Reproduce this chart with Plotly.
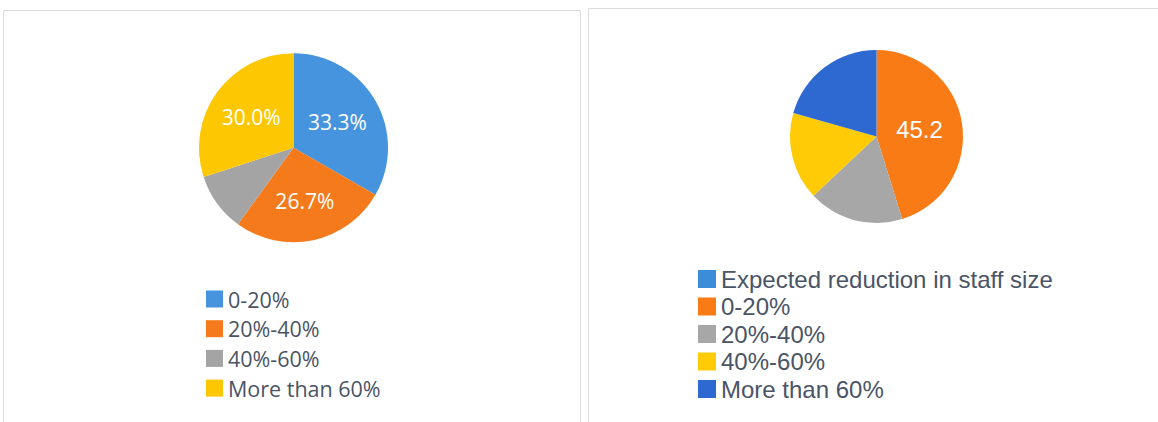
import plotly.graph_objects as go

W, H = 1158, 422

# Left chart: share of respondents by range
left_labels = ["0-20%", "20%-40%", "40%-60%", "More than 60%"]
left_values = [33.3, 26.7, 10.0, 30.0]
left_colors = ["#4594dd", "#f47a1c", "#a4a4a4", "#fdc702"]
left_text = ["33.3%", "26.7%", "", "30.0%"]

# Right chart: expected reduction in staff size
right_labels = ["Expected reduction in staff size", "0-20%", "20%-40%", "40%-60%", "More than 60%"]
right_values = [0, 45.2, 17.8, 16.4, 20.6]
right_colors = ["#3b8cd9", "#f87b16", "#a7a7a7", "#fecb06", "#2d69d1"]
right_text = ["", "45.2", "", "", ""]


def px(x):
    return x / W


def py(y):
    return 1 - y / H


fig = go.Figure()

fig.add_trace(go.Pie(
    labels=left_labels, values=left_values, text=left_text,
    texttemplate="%{text}", textposition="inside", insidetextorientation="horizontal",
    sort=False, direction="clockwise", rotation=0,
    marker=dict(colors=left_colors, line=dict(width=0)),
    textfont=dict(family="Open Sans", size=21, color="white"),
    domain=dict(x=[px(199), px(388)], y=[py(242.5), py(53)]),
    showlegend=False, hoverinfo="label+value",
))

fig.add_trace(go.Pie(
    labels=right_labels, values=right_values, text=right_text,
    texttemplate="%{text}", textposition="inside", insidetextorientation="horizontal",
    sort=False, direction="clockwise", rotation=0,
    marker=dict(colors=right_colors, line=dict(width=0)),
    textfont=dict(family="Liberation Sans, Arial", size=24, color="white"),
    domain=dict(x=[px(790), px(963)], y=[py(223), py(50)]),
    showlegend=False, hoverinfo="label+value",
))

shapes = []
annotations = []

# Panel frames
shapes.append(dict(type="rect", xref="paper", yref="paper",
                   x0=px(3.5), x1=px(580.5), y0=-0.05, y1=py(10.5),
                   line=dict(color="#dcdcdc", width=1), fillcolor="rgba(0,0,0,0)", layer="below"))
shapes.append(dict(type="rect", xref="paper", yref="paper",
                   x0=px(588.5), x1=1.05, y0=-0.05, y1=py(8.5),
                   line=dict(color="#dcdcdc", width=1), fillcolor="rgba(0,0,0,0)", layer="below"))


def add_legend(labels, colors, box_x, text_x, first_y, step, box, font):
    for i, (lab, col) in enumerate(zip(labels, colors)):
        cy = first_y + i * step
        shapes.append(dict(type="rect", xref="paper", yref="paper",
                           x0=px(box_x), x1=px(box_x + box),
                           y0=py(cy + box / 2), y1=py(cy - box / 2),
                           line=dict(width=0), fillcolor=col))
        annotations.append(dict(xref="paper", yref="paper", x=px(text_x), y=py(cy),
                                xanchor="left", yanchor="middle", showarrow=False,
                                text=lab, font=font))


add_legend(left_labels, left_colors, 206, 226, 299, 29.7, 17,
           dict(family="Open Sans", size=21.5, color="#4a5466"))
add_legend(right_labels, right_colors, 698, 719, 279, 27.5, 18,
           dict(family="Liberation Sans, Arial", size=24, color="#4a5466"))

fig.update_layout(
    width=W, height=H,
    margin=dict(l=0, r=0, t=0, b=0),
    paper_bgcolor="white", plot_bgcolor="white",
    shapes=shapes, annotations=annotations,
)

fig.write_html("out.html")
